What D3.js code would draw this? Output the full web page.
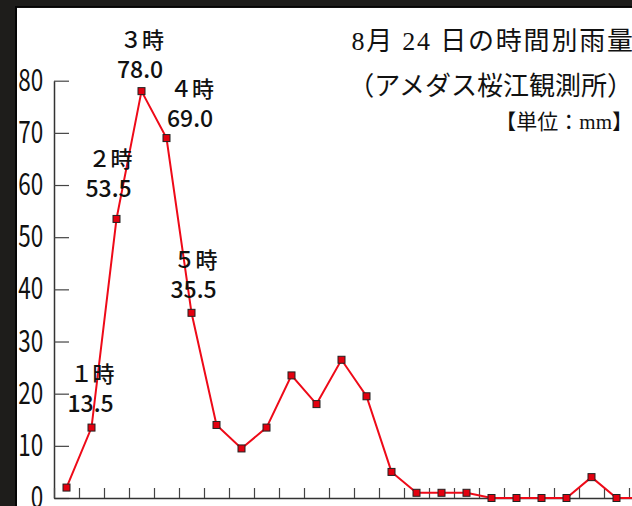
<!DOCTYPE html>
<html>
<head>
<meta charset="utf-8">
<script src="https://cdn.jsdelivr.net/npm/d3@7"></script>
<style>
body { margin: 0; background: #fff; }
</style>
</head>
<body>
<div id="wrapper"></div>
<script>
// hourly rain, 24 Aug (mm)
const hours = [0, 1, 2, 3, 4, 5, 6, 7, 8, 9, 10, 11, 12, 13, 14, 15, 16, 17, 18, 19, 20, 21, 22, 23]
const rain = [2.0, 13.5, 53.5, 78.0, 69.0, 35.5, 14.0, 9.5, 13.5, 23.5, 18.0, 26.5, 19.5, 5.0, 1.0, 1.0, 1.0, 0, 0, 0, 0, 4.0, 0, 0]
const yTicks = [0, 10, 20, 30, 40, 50, 60, 70, 80]
const labelHours = [1, 2, 3, 4, 5]
const labelNames = ['１時', '２時', '３時', '４時', '５時']
const titleLines = ['8月 24 日の時間別雨量', '（アメダス桜江観測所）', '【単位：mm】']

// where each callout sits relative to its point
const labelOffsets = [
    { dx: -1, dy: -16 },
    { dx: -8, dy: -22 },
    { dx: -1.5, dy: -13.5 },
    { dx: 23.5, dy: -11.5 },
    { dx: 2, dy: -15 }
]

const jp = '"Noto Sans CJK JP", "Noto Sans", sans-serif'

const wrapper = d3.select('#wrapper')
    .append('svg')
        .attr('width', 632)
        .attr('height', 506)
        .style('display', 'block')

wrapper.append('rect')
    .attr('width', 632)
    .attr('height', 506)
    .attr('fill', '#fff')

const x = d3.scaleLinear().domain([0, 24]).range([54, 654])
const y = d3.scaleLinear().domain([0, 80]).range([498, 80.7])

// y axis, ticks point inward
const yAxis = wrapper.append('g')
    .attr('transform', 'translate(54,0)')
    .call(d3.axisLeft(y)
        .tickValues(yTicks)
        .tickSizeInner(-15)
        .tickSizeOuter(0)
        .tickPadding(14.5))

yAxis.select('.domain').attr('stroke', '#333').attr('stroke-width', 1.5)
yAxis.selectAll('.tick line').attr('stroke', '#444').attr('stroke-width', 1.2)
yAxis.selectAll('.tick text')
    .attr('font-family', jp)
    .attr('font-size', 30)
    .attr('fill', '#111')
    .attr('transform', 'scale(0.75,1)')

// x axis, no labels, short ticks going up
const xAxis = wrapper.append('g')
    .attr('transform', 'translate(0,498)')
    .call(d3.axisBottom(x)
        .tickValues(hours.concat([24]))
        .tickSizeInner(-10)
        .tickSizeOuter(0)
        .tickFormat(''))

xAxis.select('.domain').attr('stroke', '#333').attr('stroke-width', 1.5)
xAxis.selectAll('.tick line').attr('stroke', '#444').attr('stroke-width', 1.2)

const line = d3.line()
    .x((d, i) => x(hours[i] + 0.5))
    .y(d => y(d))

wrapper.append('path')
    .datum(rain)
    .attr('d', line)
    .attr('fill', 'none')
    .attr('stroke', '#ee0a18')
    .attr('stroke-width', 2)

wrapper.append('g')
    .selectAll('rect')
    .data(rain)
    .join('rect')
        .attr('x', (d, i) => x(hours[i] + 0.5) - 3.5)
        .attr('y', d => y(d) - 3.5)
        .attr('width', 7)
        .attr('height', 7)
        .attr('fill', '#e3000f')
        .attr('stroke', '#222')
        .attr('stroke-width', 1)

// callouts
labelHours.forEach((h, k) => {
    const px = x(h + 0.5) + labelOffsets[k].dx
    const py = y(rain[h]) + labelOffsets[k].dy
    wrapper.append('text')
        .attr('x', px)
        .attr('y', py)
        .attr('text-anchor', 'middle')
        .attr('font-family', jp)
        .attr('font-size', 23)
        .attr('font-weight', 500)
        .attr('fill', '#111')
        .text(rain[h].toFixed(1))
    wrapper.append('text')
        .attr('x', px + 2)
        .attr('y', py - 29.5)
        .attr('text-anchor', 'middle')
        .attr('font-family', jp)
        .attr('font-size', 22)
        .attr('font-weight', 500)
        .attr('fill', '#111')
        .text(labelNames[k])
})

// title block, right aligned
const titleSizes = [26, 26, 21]
const titleY = [50, 95, 129]
const titleSpacing = [1.8, 0, 0]
titleLines.forEach((t, k) => {
    wrapper.append('text')
        .attr('x', 633 + titleSpacing[k])
        .attr('y', titleY[k])
        .attr('text-anchor', 'end')
        .attr('font-family', '"Liberation Serif", "DejaVu Serif", "Noto Sans CJK JP", serif')
        .attr('font-size', titleSizes[k])
        .attr('letter-spacing', titleSpacing[k])
        .attr('fill', '#111')
        .text(t)
})

// dark frame top and left
wrapper.append('rect').attr('x', 0).attr('y', 0).attr('width', 632).attr('height', 8).attr('fill', '#1e1d1b')
wrapper.append('rect').attr('x', 0).attr('y', 0).attr('width', 17).attr('height', 506).attr('fill', '#1e1d1b')
wrapper.append('rect').attr('x', 15).attr('y', 6).attr('width', 617).attr('height', 1.5).attr('fill', '#050505')
wrapper.append('rect').attr('x', 15).attr('y', 6).attr('width', 2).attr('height', 500).attr('fill', '#050505')
</script>
</body>
</html>
